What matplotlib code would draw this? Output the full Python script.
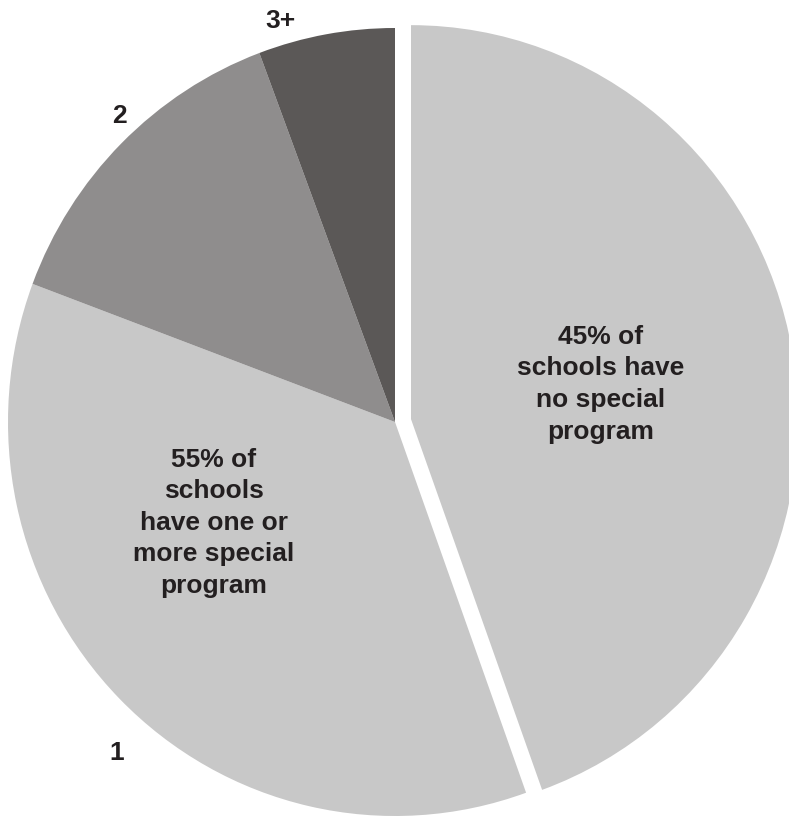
import matplotlib.pyplot as plt
import numpy as np

# share of schools by number of special programs
groups = ['none', '1', '2', '3+']
shares = [44.5, 36.2, 13.6, 5.7]
colors = ['#c8c8c8', '#c8c8c8', '#8f8d8d', '#5b5857']
explode = [0.042, 0, 0, 0]

inner_none = '45% of\nschools have\nno special\nprogram'
inner_some = '55% of\nschools\nhave one or\nmore special\nprogram'

plt.rcParams['font.family'] = ['Liberation Sans', 'DejaVu Sans']

fig = plt.figure(figsize=(7.89, 8.18), dpi=100)
ax = fig.add_axes([0, 0, 1, 1])

wedges, _ = ax.pie(shares, colors=colors, explode=explode, startangle=90,
                   counterclock=False, radius=1,
                   wedgeprops=dict(linewidth=0))

# the original is very slightly squashed sideways
ax.set_aspect('auto')
ax.set_xlim(-395 / 387, 394 / 387)
ax.set_ylim(-396 / 394, 422 / 394)
ax.axis('off')

txt = dict(fontsize=19, fontweight='bold', color='#231f20',
           ha='center', va='center', linespacing=1.4)

# outer labels for the slices 1, 2, 3+
nudge = {'1': (4.8, 1.105), '2': (-2.5, 1.055), '3+': (6.0, 1.06)}
for w, g in zip(wedges, groups):
    if g not in nudge:
        continue
    da, r = nudge[g]
    mid = np.deg2rad((w.theta1 + w.theta2) / 2 + da)
    ax.text(r * np.cos(mid), r * np.sin(mid), g, **txt)

ax.text(0.532, 0.096, inner_none, **txt)
ax.text(-0.468, -0.256, inner_some, **txt)

plt.savefig('out.png', dpi=100)
